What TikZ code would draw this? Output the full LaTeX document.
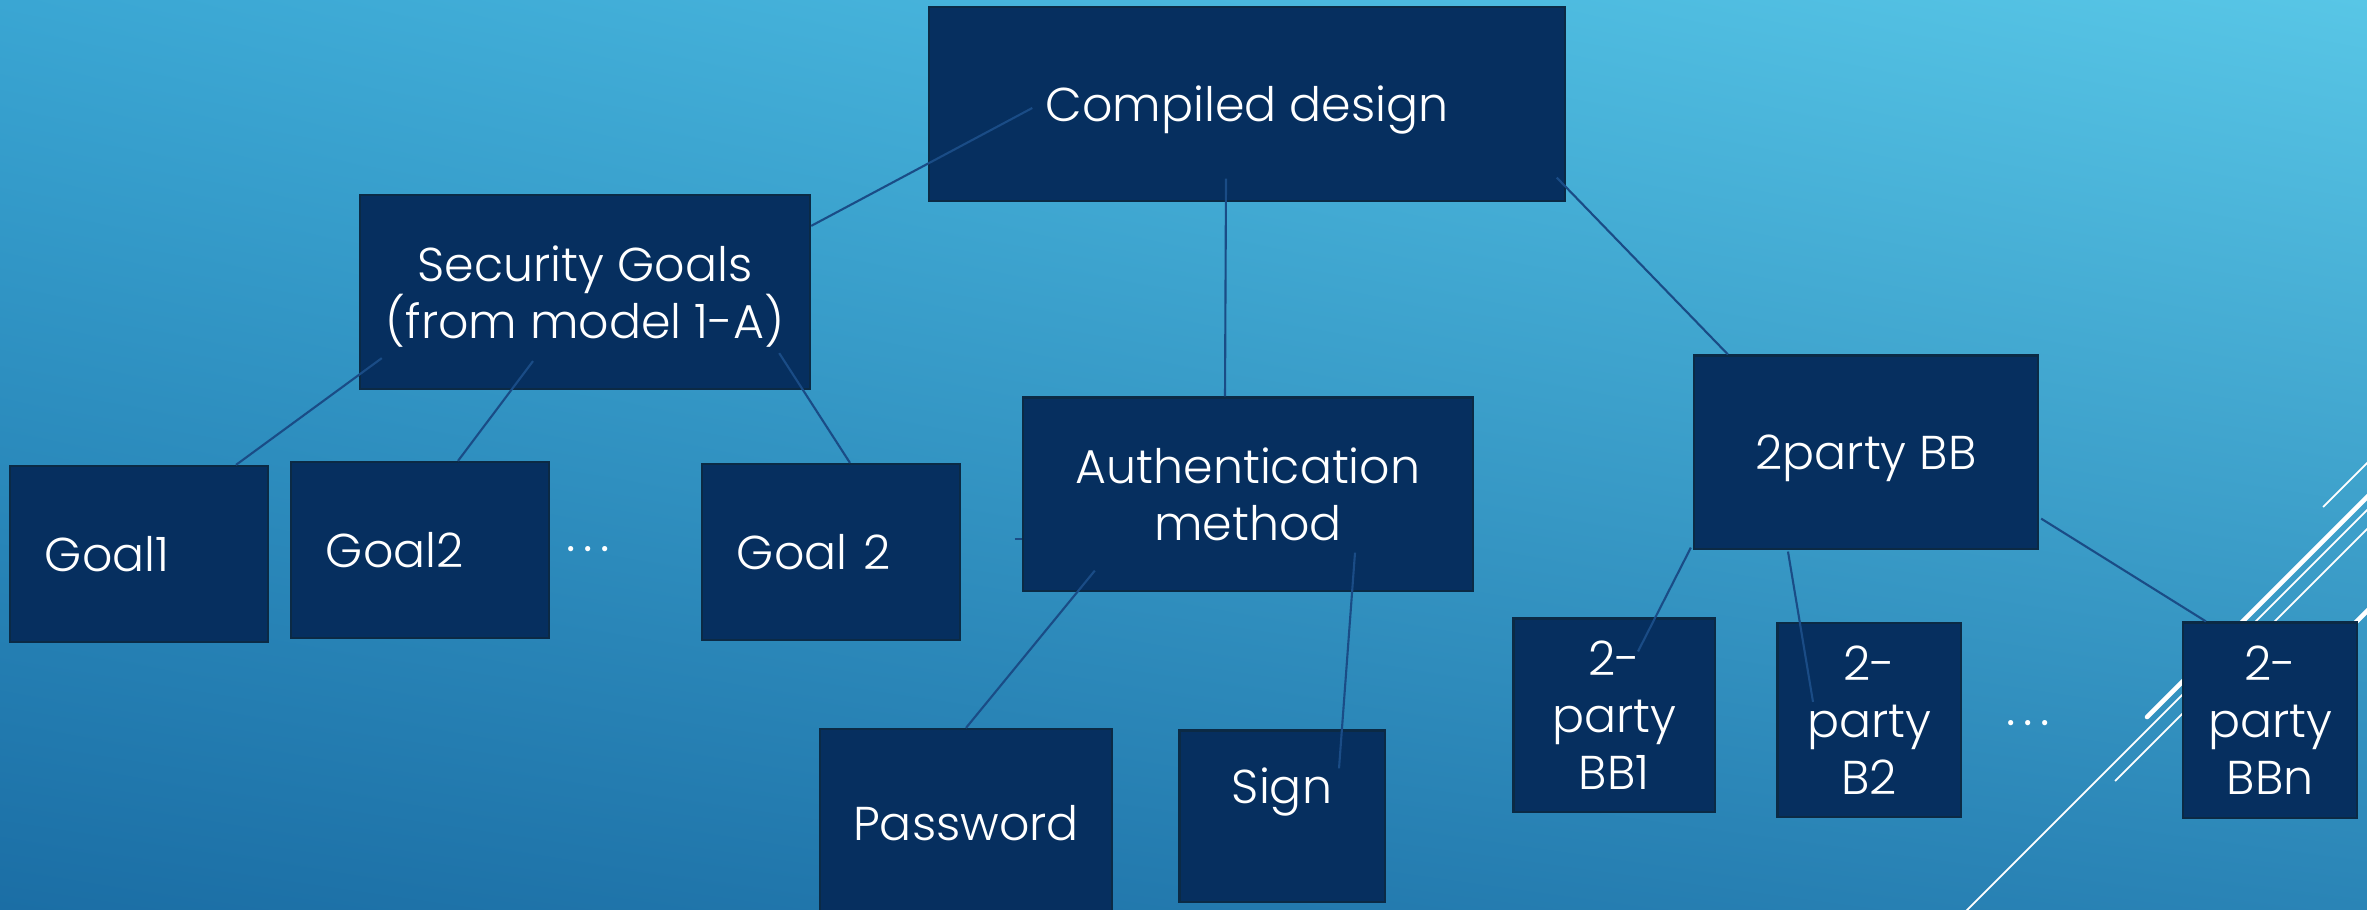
\documentclass[tikz,border=0pt]{standalone}
\usepackage{fontspec}
\setmainfont{Poppins}[UprightFont=* Light]
\usetikzlibrary{calc,shadings}

\definecolor{bgtl}{HTML}{3AA6D3}
\definecolor{bgtr}{HTML}{58C6E6}
\definecolor{bgbl}{HTML}{1B6EA5}
\definecolor{bgbr}{HTML}{2A84B6}
\definecolor{navy}{HTML}{062F5F}
\definecolor{boxedge}{HTML}{0B2A45}
\definecolor{linkblue}{HTML}{1A4C86}

\begin{document}
\begin{tikzpicture}[x=0.01cm, y=-0.01cm,
        box/.style={rectangle, fill=navy, draw=boxedge, line width=0.6pt, text=white, align=center,
                    inner sep=0pt, text depth=0pt, font=\fontsize{13.5}{16.2}\selectfont},
        goal/.style={box, align=left, inner xsep=0.35cm, text width=1.88cm, minimum height=1.76cm},
        link/.style={draw=linkblue, line width=0.6pt},
        deco/.style={draw=white, line width=0.5pt},
        decothick/.style={draw=white, line width=1.3pt, line cap=round},
        dots/.style={text=white, inner sep=0pt, font=\fontsize{14.5}{16}\selectfont},
    ]
    \useasboundingbox (0,0) rectangle (2367,909);
    \clip (0,0) rectangle (2367,909);
    \shade[upper left=bgtl, upper right=bgtr, lower left=bgbl, lower right=bgbr] (0,0) rectangle (2367,909);

    % white strokes of the slide
    \draw[deco] (1958,919) -- (2420,457);
    \draw[deco] (2115,781) -- (2420,476);
    \draw[deco] (2323,507) -- (2420,410);
    \draw[decothick] (2147,717) -- (2420,444);
    \draw[decothick] (2330,648) -- (2420,558);

    % boxes
    \node[box, minimum width=6.35cm, minimum height=1.93cm] (design) at (1247,104) {Compiled design};
    \node[box, minimum width=4.50cm, minimum height=1.94cm] (goals) at (585,292) {Security Goals\\(from model 1-A)};
    \node[goal] (goal1) at (139,554) {Goal1};
    \node[goal] (goal2) at (420,550) {Goal2};
    \node[goal] (goaln) at (831,552) {Goal 2};
    \node[dots] (gdots) at (588,549) {.\kern2.2pt.\kern2.2pt.};
    \node[box, minimum width=4.50cm, minimum height=1.93cm] (auth) at (1248,494) {Authentication\\method};
    \node[box, minimum width=2.91cm, minimum height=1.88cm] (passwd) at (966,823) {Password};
    \node[box, minimum width=2.05cm, minimum height=1.71cm, text depth=0.6cm] (sign) at (1282,816) {Sign};
    \node[box, minimum width=3.44cm, minimum height=1.93cm] (twobb) at (1866,452) {2party BB};
    \node[box, minimum width=2.01cm, minimum height=1.93cm] (bb1) at (1614,715) {2-\\party\\BB1};
    \node[box, minimum width=1.83cm, minimum height=1.94cm] (bb2) at (1869,720) {2-\\party\\B2};
    \node[box, minimum width=1.74cm, minimum height=1.95cm] (bbn) at (2270,720) {2-\\party\\BBn};
    \node[dots] (bbdots) at (2028,723) {.\kern2.2pt.\kern2.2pt.};

    % connectors
    \draw[link] ($(design.west)+(104,4)$) -- ($(goals.north east)+(0,32)$);
    \draw[link] ($(design.south)+(-21,-23)$) -- ($(auth.north)+(-23,0)$);
    \draw[link] ($(design.south east)+(-9,-24)$) -- ($(twobb.north west)+(35,0)$);
    \draw[link] ($(goals.south west)+(23,-32)$) -- ($(goal1.north)+(97,0)$);
    \draw[link] ($(goals.south)+(-52,-29)$) -- ($(goal2.north)+(38,0)$);
    \draw[link] ($(goals.south east)+(-32,-37)$) -- ($(goaln.north)+(19,0)$);
    \coordinate (stub) at ($(auth.west)+(-7,45)$);
    \draw[link] (stub) -- ($(auth.west)+(0,45)$);
    \draw[link] ($(auth.south west)+(73,-21)$) -- (passwd.north);
    \draw[link] ($(auth.south)+(107,-39)$) -- ($(sign.north)+(57,39)$);
    \draw[link] ($(twobb.south west)+(-2,-2)$) -- ($(bb1.north)+(24,34)$);
    \draw[link] ($(twobb.south)+(-78,2)$) -- ($(bb2.north)+(-56,80)$);
    \draw[link] ($(twobb.south east)+(2,-31)$) -- ($(bbn.north west)+(24,0)$);
\end{tikzpicture}
\end{document}
